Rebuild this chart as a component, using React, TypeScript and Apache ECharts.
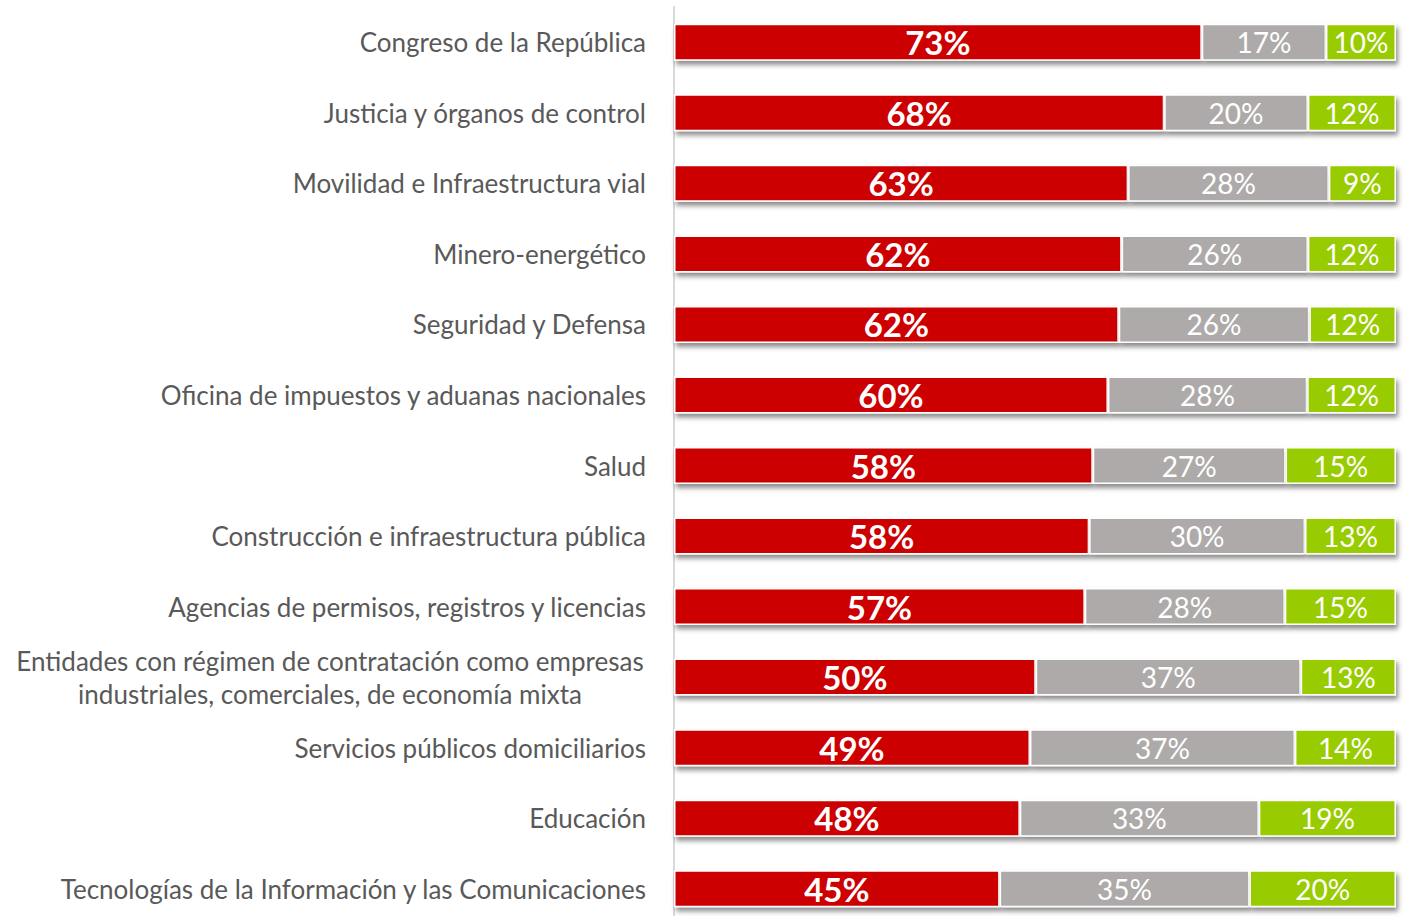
import React, { useEffect, useRef } from "react";
import * as echarts from "echarts";

const categories = [
  "Congreso de la República",
  "Justicia y órganos de control",
  "Movilidad e Infraestructura vial",
  "Minero-energético",
  "Seguridad y Defensa",
  "Oficina de impuestos y aduanas nacionales",
  "Salud",
  "Construcción e infraestructura pública",
  "Agencias de permisos, registros y licencias",
  "Entidades con régimen de contratación como empresas\nindustriales, comerciales, de economía mixta",
  "Servicios públicos domiciliarios",
  "Educación",
  "Tecnologías de la Información y las Comunicaciones",
];

const redValues = [73.1, 67.9, 62.9, 62.0, 61.6, 60.1, 58.0, 57.5, 56.9, 50.1, 49.3, 47.9, 45.1];
const grayValues = [17.2, 19.9, 27.8, 25.8, 26.4, 27.6, 26.7, 29.9, 27.7, 36.7, 36.7, 33.1, 34.6];
const greenValues = [9.7, 12.2, 9.3, 12.2, 12.0, 12.3, 15.3, 12.6, 15.4, 13.2, 14.0, 19.0, 20.3];

const FONT = "Lato, 'Open Sans', sans-serif";

export default function App() {
  const ref = useRef<HTMLDivElement>(null);
  useEffect(() => {
    if (!ref.current) return;
    const chart = echarts.init(ref.current, undefined, { renderer: "svg" });
    const shadow = {
      borderColor: "#ffffff",
      borderWidth: 1.5,
      shadowColor: "rgba(0,0,0,0.45)",
      shadowBlur: 5,
      shadowOffsetX: 2,
      shadowOffsetY: 4,
    };
    const fmt = (p: any) => Math.round(p.value) + "%";
    chart.setOption({
      animation: false,
      textStyle: { fontFamily: FONT },
      grid: { left: 674, right: 11, top: 7, height: 917 },
      xAxis: { type: "value", min: 0, max: 100, show: false },
      yAxis: {
        type: "category",
        inverse: true,
        data: categories,
        axisLine: { show: true, lineStyle: { color: "#d9d9d9", width: 2 } },
        axisTick: { show: false },
        axisLabel: {
          margin: 28,
          color: "#595959",
          fontSize: 26,
          fontFamily: FONT,
          lineHeight: 33,
          formatter: (v: string) => {
            if (v.indexOf("\n") >= 0) {
              return v
                .split("\n")
                .map((l) => "{c|" + l + "}")
                .join("\n");
            }
            return v;
          },
          rich: {
            c: {
              width: 632,
              align: "center",
              color: "#595959",
              fontSize: 26,
              fontFamily: FONT,
              lineHeight: 33,
            },
          },
        },
      },
      series: [
        {
          type: "bar",
          stack: "t",
          data: redValues,
          barWidth: 37,
          itemStyle: { color: "#cc0000", ...shadow },
          label: {
            show: true,
            position: "inside",
            formatter: fmt,
            color: "#ffffff",
            fontSize: 33,
            fontWeight: "bold",
            fontFamily: FONT,
          },
        },
        {
          type: "bar",
          stack: "t",
          data: grayValues,
          barWidth: 37,
          itemStyle: { color: "#aeaaaa", ...shadow },
          label: {
            show: true,
            position: "inside",
            formatter: fmt,
            color: "#ffffff",
            fontSize: 28,
            fontFamily: FONT,
          },
        },
        {
          type: "bar",
          stack: "t",
          data: greenValues,
          barWidth: 37,
          itemStyle: { color: "#99cc00", ...shadow },
          label: {
            show: true,
            position: "inside",
            formatter: fmt,
            color: "#ffffff",
            fontSize: 28,
            fontFamily: FONT,
          },
        },
      ],
    });
    return () => chart.dispose();
  }, []);
  return (
    <div
      style={{
        position: "absolute",
        left: 0,
        top: 0,
        width: 1407,
        height: 916,
        overflow: "hidden",
      }}
    >
      <div ref={ref} style={{ width: 1407, height: 930 }} />
    </div>
  );
}
